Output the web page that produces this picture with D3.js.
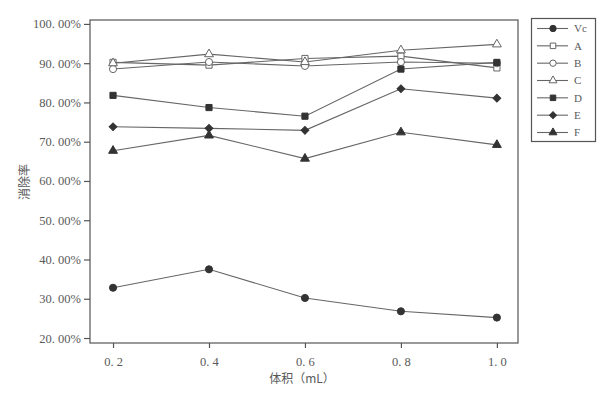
<!DOCTYPE html>
<html>
<head>
<meta charset="utf-8">
<script src="https://cdn.jsdelivr.net/npm/d3@7"></script>
<style>
  body { margin: 0; background: #fff; }
  svg { display: block; }
</style>
</head>
<body>
<div id="chart"></div>
<script>
// volumes (mL)
var volumes = [0.2, 0.4, 0.6, 0.8, 1.0];
var xTicks = [0.2, 0.4, 0.6, 0.8, 1.0];
var yTicks = [20, 30, 40, 50, 60, 70, 80, 90, 100];

// clearance rate (%) per sample
var seriesNames = ['Vc', 'A', 'B', 'C', 'D', 'E', 'F'];
var vcValues = [32.8, 37.5, 30.2, 26.8, 25.2];
var aValues = [90.2, 89.5, 91.2, 91.8, 88.8];
var bValues = [88.5, 90.3, 89.3, 90.3, 90.0];
var cValues = [90.0, 92.3, 90.3, 93.3, 94.8];
var dValues = [81.8, 78.7, 76.5, 88.5, 90.2];
var eValues = [73.8, 73.4, 72.9, 83.5, 81.1];
var fValues = [67.7, 71.6, 65.7, 72.4, 69.2];

var seriesValues = [vcValues, aValues, bValues, cValues, dValues, eValues, fValues];
var seriesSymbols = ['circle', 'square', 'circle', 'triangle', 'square', 'diamond', 'triangle'];
var seriesFilled = [true, false, false, false, true, true, true];

var width = 608, height = 399;
var plotLeft = 90, plotRight = 518, plotTop = 20, plotBottom = 343;
var textColor = '#5a5a5a';
var lineColor = '#666';
var markColor = '#333';

var svg = d3.select('#chart').append('svg')
    .attr('width', width)
    .attr('height', height);

var x = d3.scaleLinear().domain([0.152, 1.044]).range([plotLeft, plotRight]);
var y = d3.scaleLinear().domain([18.73, 101.0]).range([plotBottom, plotTop]);

//frame
svg.append('rect')
    .attr('x', plotLeft).attr('y', plotTop)
    .attr('width', plotRight - plotLeft).attr('height', plotBottom - plotTop)
    .style('fill', 'none').style('stroke', '#555').style('stroke-width', 1.2);

function pctLabel(d){
    return d3.format('.2f')(d).replace('.', '. ') + '%';
}

var yAxis = svg.append('g')
    .attr('transform', 'translate(' + plotLeft + ',0)')
    .call(d3.axisLeft(y).tickValues(yTicks).tickSize(6).tickFormat(pctLabel));
var xAxis = svg.append('g')
    .attr('transform', 'translate(0,' + plotBottom + ')')
    .call(d3.axisBottom(x).tickValues(xTicks).tickSize(5).tickFormat(function(d){ return d3.format('.1f')(d).replace('.', '. '); }));

[yAxis, xAxis].forEach(function(ax){
    ax.select('.domain').remove();
    ax.selectAll('line').style('stroke', '#555').style('stroke-width', 1.2);
    ax.selectAll('text')
        .attr('fill', textColor)
        .style('font-family', 'Liberation Serif, serif')
        .style('font-size', '12.5px');
});
xAxis.selectAll('text').attr('dy', '1.2em');

//axis titles
svg.append('text')
    .attr('transform', 'translate(29,182) rotate(-90)')
    .attr('text-anchor', 'middle')
    .attr('fill', textColor)
    .style('font-family', 'Noto Sans CJK SC')
    .style('font-size', '12px')
    .text('消除率');

svg.append('text')
    .attr('x', 302).attr('y', 383)
    .attr('text-anchor', 'middle')
    .attr('fill', textColor)
    .style('font-family', 'Noto Sans CJK SC')
    .style('font-size', '12px')
    .text('体积（mL）');

function symbolPath(kind, size){
    var t = {circle: d3.symbolCircle, square: d3.symbolSquare, triangle: d3.symbolTriangle, diamond: d3.symbolSquare}[kind];
    return d3.symbol().type(t).size(size)();
}
var symbolSize = {circle: 40, square: 38, triangle: 34, diamond: 30};
var symbolRotate = {circle: 0, square: 0, triangle: 0, diamond: 45};

var line = d3.line()
    .x(function(d){ return x(d[0]); })
    .y(function(d){ return y(d[1]); });

seriesValues.forEach(function(vals, i){
    var pts = volumes.map(function(v, j){ return [v, vals[j]]; });
    var kind = seriesSymbols[i];
    var g = svg.append('g').attr('class', 'series');
    g.append('path')
        .attr('d', line(pts))
        .style('fill', 'none')
        .style('stroke', lineColor)
        .style('stroke-width', 1.1);
    g.selectAll('path.mark').data(pts).enter().append('path')
        .attr('class', 'mark')
        .attr('transform', function(d){ return 'translate(' + x(d[0]) + ',' + y(d[1]) + ') rotate(' + symbolRotate[kind] + ')'; })
        .attr('d', symbolPath(kind, symbolSize[kind]))
        .style('fill', seriesFilled[i] ? markColor : '#fff')
        .style('stroke', seriesFilled[i] ? markColor : '#666')
        .style('stroke-width', 1);
});

//legend
var legend = svg.append('g').attr('class', 'legend');
legend.append('rect')
    .attr('x', 531.5).attr('y', 18.5)
    .attr('width', 64).attr('height', 123)
    .style('fill', 'none').style('stroke', '#555').style('stroke-width', 1.2);

var ly = d3.scalePoint().domain(seriesNames).range([28.5, 132.5]);
seriesNames.forEach(function(name, i){
    var cy = ly(name);
    var kind = seriesSymbols[i];
    legend.append('line')
        .attr('x1', 537).attr('x2', 568)
        .attr('y1', cy).attr('y2', cy)
        .style('stroke', lineColor).style('stroke-width', 1.1);
    legend.append('path')
        .attr('transform', 'translate(553,' + cy + ') rotate(' + symbolRotate[kind] + ')')
        .attr('d', symbolPath(kind, symbolSize[kind] * 0.8))
        .style('fill', seriesFilled[i] ? markColor : '#fff')
        .style('stroke', seriesFilled[i] ? markColor : '#666')
        .style('stroke-width', 1);
    legend.append('text')
        .attr('x', 574).attr('y', cy)
        .attr('dy', '0.35em')
        .attr('fill', textColor)
        .style('font-family', 'Liberation Serif, serif')
        .style('font-size', '11px')
        .text(name);
});
</script>
</body>
</html>
